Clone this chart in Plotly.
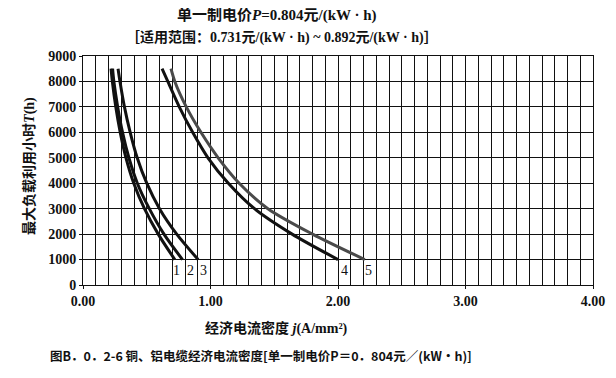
import plotly.graph_objects as go

# Maximum load utilization hours T (h)
T_hours = [8500, 8000, 7000, 6000, 5000, 4000, 3000, 2000, 1000]
# Economic current density j (A/mm²) for curves 1..5
curve1 = [0.22, 0.23, 0.257, 0.292, 0.337, 0.398, 0.482, 0.59, 0.72]
curve2 = [0.232, 0.242, 0.272, 0.31, 0.36, 0.426, 0.52, 0.635, 0.78]
curve3 = [0.275, 0.29, 0.325, 0.37, 0.425, 0.5, 0.6, 0.735, 0.903]
curve4 = [0.62, 0.665, 0.755, 0.86, 0.98, 1.14, 1.345, 1.64, 2.0]
curve5 = [0.69, 0.72, 0.81, 0.925, 1.06, 1.225, 1.45, 1.80, 2.21]
curve_names = ["1", "2", "3", "4", "5"]
curves = [curve1, curve2, curve3, curve4, curve5]
colors = ["#111111", "#111111", "#111111", "#111111", "#4a4a4a"]

x_ticks = [0, 1, 2, 3, 4]
x_tick_text = ["0.00", "1.00", "2.00", "3.00", "4.00"]
y_ticks = [0, 1000, 2000, 3000, 4000, 5000, 6000, 7000, 8000, 9000]

serif = "Liberation Serif, Times New Roman, Noto Sans CJK SC, serif"
sans = "Noto Sans CJK SC, Noto Sans, sans-serif"

fig = go.Figure()
for name, xs, col in zip(curve_names, curves, colors):
    fig.add_trace(go.Scatter(
        x=xs, y=T_hours, mode="lines", name=name,
        line=dict(color=col, width=3, shape="spline", smoothing=0.8),
        showlegend=False, hoverinfo="skip"))

label_offsets = [0.01, 0.065, 0.04, 0.05, 0.03]
for name, xs, off in zip(curve_names, curves, label_offsets):
    fig.add_annotation(x=xs[-1] + off, y=T_hours[-1], text=name,
                       showarrow=False, yanchor="top", xanchor="center", yshift=-1,
                       font=dict(family=serif, size=14, color="#111"))

# page body has an 8px default margin; compensate so the plot lands in place
fig.update_layout(
    width=608, height=370,
    margin=dict(l=75, r=23, t=48, b=93),
    paper_bgcolor="white", plot_bgcolor="white",
    xaxis=dict(range=[0, 4], tickvals=x_ticks,
               ticktext=["<b>%s</b>" % t for t in x_tick_text],
               showgrid=True, gridcolor="#111", gridwidth=1,
               minor=dict(dtick=0.1, showgrid=True, gridcolor="#111", gridwidth=1),
               showline=True, linecolor="#111", linewidth=1, mirror=True,
               ticks="outside", ticklen=3, tickcolor="#111",
               tickfont=dict(family=serif, size=14, color="#111"),
               zeroline=False, automargin=False),
    yaxis=dict(range=[0, 9000], tickvals=y_ticks,
               ticktext=["<b>%d</b>" % t for t in y_ticks],
               showgrid=True, gridcolor="#111", gridwidth=1,
               showline=True, linecolor="#111", linewidth=1, mirror=True,
               ticks="outside", ticklen=3, tickcolor="#111",
               tickfont=dict(family=serif, size=14, color="#111"),
               zeroline=False, automargin=False),
    font=dict(family=serif, color="#111"),
)

# axis titles
fig.add_annotation(xref="paper", yref="paper", x=0.38, y=0, yshift=-43,
                   text="<b>经济电流密度 <i>j</i>(A/mm²)</b>", showarrow=False,
                   xanchor="center", yanchor="middle",
                   font=dict(family=serif, size=14, color="#111"))
fig.add_annotation(xref="paper", yref="paper", x=0, xshift=-53, y=0.52,
                   text="<b>最大负载利用小时<i>T</i>(h)</b>", showarrow=False, textangle=-90,
                   xanchor="center", yanchor="middle",
                   font=dict(family=serif, size=14, color="#111"))

fig.add_annotation(xref="paper", yref="paper", x=0.38, y=1.0, yshift=41,
                   text="<b>单一制电价<i>P</i>=0.804元/(kW · h)</b>", showarrow=False,
                   xanchor="center", yanchor="middle",
                   font=dict(family=serif, size=15, color="#111"))
fig.add_annotation(xref="paper", yref="paper", x=0.39, y=1.0, yshift=19,
                   text="<b>［适用范围：0.731元/(kW · h) ~ 0.892元/(kW · h)］</b>", showarrow=False,
                   xanchor="center", yanchor="middle",
                   font=dict(family=serif, size=14, color="#111"))
fig.add_annotation(xref="paper", yref="paper", x=0.349, y=0, yshift=-70,
                   text="<b>图B．0．2-6 铜、铝电缆经济电流密度[单一制电价P＝0．804元／(kW•h)]</b>",
                   showarrow=False, xanchor="center", yanchor="middle",
                   font=dict(family=sans, size=12.5, color="#111"))

fig.write_html("out.html")
